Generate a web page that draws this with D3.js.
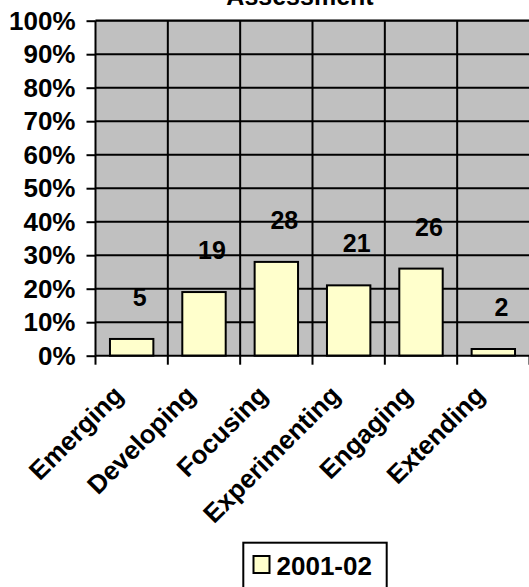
<!DOCTYPE html>
<html>
<head>
<meta charset="utf-8">
<script src="https://cdn.jsdelivr.net/npm/d3@7"></script>
<style>
  html, body { margin: 0; padding: 0; background: #ffffff; }
  svg { display: block; }
  text { font-family: Arial, "Liberation Sans", sans-serif; font-weight: bold; fill: #000; }
</style>
</head>
<body>
<script>
const title = "Assessment";
const categories = ["Emerging", "Developing", "Focusing", "Experimenting", "Engaging", "Extending"];
const values = [5, 19, 28, 21, 26, 2];
const yTicks = [0, 10, 20, 30, 40, 50, 60, 70, 80, 90, 100];
const seriesName = "2001-02";

const W = 529, H = 587;
const plot = { left: 95.5, right: 529.5, top: 20.7, bottom: 355.7 };

const svg = d3.select("body").append("svg").attr("width", W).attr("height", H);

const x = d3.scaleBand().domain(categories)
  .range([plot.left, plot.right]).paddingInner(0.4).paddingOuter(0.2);
const y = d3.scaleLinear().domain([0, 100]).range([plot.bottom, plot.top]);
const step = x.step();

// plot background
svg.append("rect")
  .attr("x", plot.left).attr("y", plot.top)
  .attr("width", plot.right - plot.left).attr("height", plot.bottom - plot.top)
  .attr("fill", "#C0C0C0");
// top border (gray)
svg.append("line")
  .attr("x1", plot.left).attr("x2", plot.right)
  .attr("y1", plot.top - 0.5).attr("y2", plot.top - 0.5)
  .attr("stroke", "#808080").attr("stroke-width", 2);

// horizontal gridlines
svg.append("g").selectAll("line").data(yTicks.filter(d => d > 0)).join("line")
  .attr("x1", plot.left).attr("x2", plot.right)
  .attr("y1", d => y(d)).attr("y2", d => y(d))
  .attr("stroke", "#000").attr("stroke-width", 2);

// vertical category separators
const bounds = d3.range(categories.length).map(i => plot.left + i * step);
svg.append("g").selectAll("line").data(bounds.slice(1)).join("line")
  .attr("x1", d => d).attr("x2", d => d)
  .attr("y1", plot.top).attr("y2", plot.bottom)
  .attr("stroke", "#000").attr("stroke-width", 2);

// bars
svg.append("g").selectAll("rect").data(values).join("rect")
  .attr("x", (d, i) => x(categories[i]))
  .attr("y", d => y(d))
  .attr("width", x.bandwidth())
  .attr("height", d => y(0) - y(d))
  .attr("fill", "#FFFFCC").attr("stroke", "#000").attr("stroke-width", 2);

// y axis
const yAxis = d3.axisLeft(y).tickValues(yTicks).tickFormat(d => d + "%").tickSize(9).tickPadding(11);
const gy = svg.append("g").attr("transform", `translate(${plot.left},0)`).call(yAxis);
gy.select(".domain").attr("stroke", "#000").attr("stroke-width", 2).attr("d", `M0,${plot.top}V${plot.bottom}`);
gy.selectAll(".tick line").attr("stroke", "#000").attr("stroke-width", 2);
gy.selectAll(".tick text").style("font-size", "26px").style("font-family", "Arial, 'Liberation Sans', sans-serif").style("font-weight", "bold").attr("fill", "#000");

// x axis line and ticks at category boundaries
svg.append("line").attr("x1", plot.left).attr("x2", plot.right)
  .attr("y1", plot.bottom).attr("y2", plot.bottom)
  .attr("stroke", "#000").attr("stroke-width", 2);
svg.append("g").selectAll("line").data(bounds.concat([plot.left + categories.length * step])).join("line")
  .attr("x1", d => d).attr("x2", d => d)
  .attr("y1", plot.bottom).attr("y2", plot.bottom + 9)
  .attr("stroke", "#000").attr("stroke-width", 2);

// category labels
svg.append("g").selectAll("text").data(categories).join("text")
  .attr("transform", d => `translate(${x(d) + x.bandwidth() / 2 - 7},${plot.bottom + 41}) rotate(-45)`)
  .attr("text-anchor", "end")
  .style("font-size", "26px")
  .text(d => d);

// data labels
svg.append("g").selectAll("text").data(values).join("text")
  .attr("x", (d, i) => x(categories[i]) + x.bandwidth() / 2 + 8)
  .attr("y", d => y(d) - 33)
  .attr("text-anchor", "middle")
  .style("font-size", "25px")
  .text(d => d);

// title
svg.append("text").attr("x", 300).attr("y", 5).attr("text-anchor", "middle")
  .style("font-size", "25px").text(title);

// legend
const lg = svg.append("g");
lg.append("rect").attr("x", 243.3).attr("y", 542.7).attr("width", 143.4).attr("height", 60)
  .attr("fill", "#fff").attr("stroke", "#000").attr("stroke-width", 2);
lg.append("rect").attr("x", 253.5).attr("y", 556).attr("width", 16).attr("height", 17)
  .attr("fill", "#FFFFCC").attr("stroke", "#000").attr("stroke-width", 2);
lg.append("text").attr("x", 276.5).attr("y", 574.5).style("font-size", "26px").text(seriesName);
</script>
</body>
</html>
